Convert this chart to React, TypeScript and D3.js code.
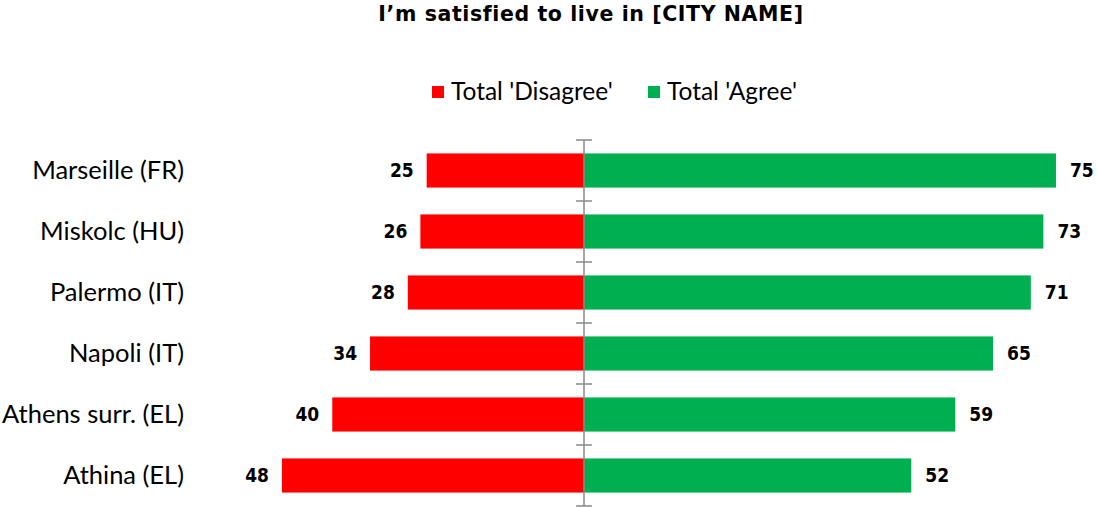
import React from "react";
import * as d3 from "d3";

const cities = ["Marseille (FR)", "Miskolc (HU)", "Palermo (IT)", "Napoli (IT)", "Athens surr. (EL)", "Athina (EL)"];
const disagree = [25, 26, 28, 34, 40, 48];
const agree = [75, 73, 71, 65, 59, 52];
const seriesNames = ["Total 'Disagree'", "Total 'Agree'"];
const colors = ["#FF0000", "#00B050"];
const title = "I\u2019m satisfied to live in [CITY NAME]";

const W = 1097;
const H = 507;
const LABEL_FONT = "Lato, 'Open Sans', sans-serif";
const BOLD_FONT = "'DejaVu Sans', Verdana, sans-serif";
const NUM_FONT = "'DejaVu Sans Condensed', 'DejaVu Sans', sans-serif";

export default function App() {
  const x = d3.scaleLinear().domain([-80, 80]).range([584 - 80 * 6.293, 584 + 80 * 6.293]);
  const y = d3.scaleBand<string>().domain(cities).range([140, 506]).paddingInner(0.44).paddingOuter(0.22);
  const step = y.step();
  const top = 140;
  const ticks = d3.range(cities.length + 1).map((i) => top + i * step);
  const x0 = x(0);

  return (
    <svg width={W} height={H} style={{ position: "absolute", left: 0, top: 0, background: "#fff" }}>
      <text x={591} y={21} textAnchor="middle" fontFamily={BOLD_FONT} fontWeight="bold" fontSize={20.5} letterSpacing={0.6} fill="#000">
        {title}
      </text>
      <g>
        <rect x={432} y={86} width={12} height={12} fill={colors[0]} />
        <text x={451} y={100} fontFamily={LABEL_FONT} fontSize={24.5} fill="#000">{seriesNames[0]}</text>
        <rect x={648} y={86} width={12} height={12} fill={colors[1]} />
        <text x={667} y={100} fontFamily={LABEL_FONT} fontSize={24.5} fill="#000">{seriesNames[1]}</text>
      </g>
      {cities.map((c, i) => {
        const yy = y(c)!;
        const bw = y.bandwidth();
        const cy = yy + bw / 2;
        return (
          <g key={c}>
            <rect x={x(-disagree[i])} y={yy} width={x0 - x(-disagree[i])} height={bw} fill={colors[0]} />
            <rect x={x0} y={yy} width={x(agree[i]) - x0} height={bw} fill={colors[1]} />
            <text x={184} y={cy} dy="0.35em" textAnchor="end" fontFamily={LABEL_FONT} fontSize={25.5} fill="#000">
              {c}
            </text>
            <text x={x(-disagree[i]) - 13} y={cy} dy="0.36em" textAnchor="end" fontFamily={NUM_FONT} fontWeight="bold" fontSize={19} fill="#000">
              {disagree[i]}
            </text>
            <text x={x(agree[i]) + 14} y={cy} dy="0.36em" textAnchor="start" fontFamily={NUM_FONT} fontWeight="bold" fontSize={19} fill="#000">
              {agree[i]}
            </text>
          </g>
        );
      })}
      <line x1={x0} x2={x0} y1={top} y2={top + cities.length * step} stroke="#898989" strokeWidth={1.5} />
      {ticks.map((t, i) => (
        <line key={i} x1={x0 - 8} x2={x0 + 8} y1={t} y2={t} stroke="#898989" strokeWidth={1.5} />
      ))}
    </svg>
  );
}
